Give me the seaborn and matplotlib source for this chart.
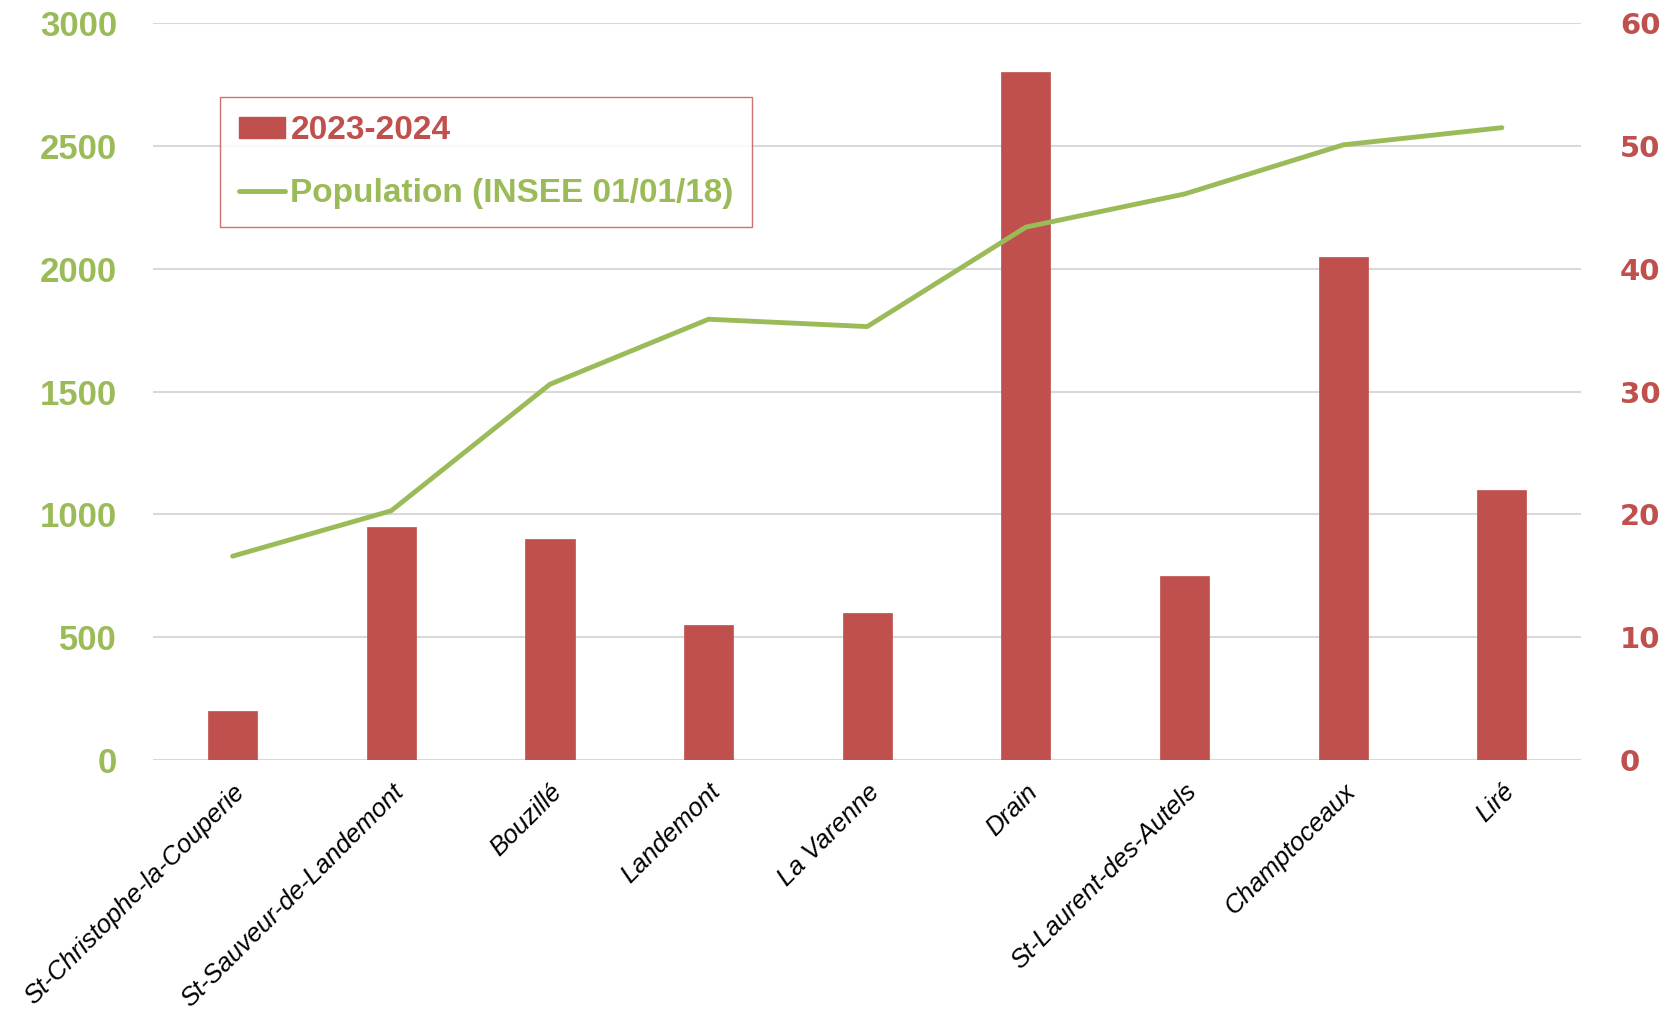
import matplotlib
matplotlib.use('Agg')
import matplotlib.pyplot as plt
from matplotlib.patches import Patch
from matplotlib.lines import Line2D
import seaborn as sns
import pandas as pd

communes = ["St-Christophe-la-Couperie", "St-Sauveur-de-Landemont", "Bouzillé", "Landemont",
            "La Varenne", "Drain", "St-Laurent-des-Autels", "Champtoceaux", "Liré"]
counts_2023 = [4, 19, 18, 11, 12, 56, 15, 41, 22]
population = [830, 1015, 1530, 1795, 1765, 2170, 2305, 2505, 2575]
left_ticks = [0, 500, 1000, 1500, 2000, 2500, 3000]
right_ticks = [0, 10, 20, 30, 40, 50, 60]

RED = "#C0504D"
GREEN = "#9BBB59"
GRID = "#D9D9D9"

sns.set_style("white")
plt.rcParams['font.family'] = ['Liberation Sans', 'DejaVu Sans']

df = pd.DataFrame({"commune": communes, "count": counts_2023, "population": population})

fig = plt.figure(figsize=(16.75, 10.14), dpi=100)
ax = fig.add_axes([0.0915, 0.2505, 0.8525, 0.7265])
ax2 = ax.twinx()

# bars on the right axis
sns.barplot(data=df, x="commune", y="count", ax=ax2, color=RED, width=0.31,
            saturation=1, edgecolor=RED, linewidth=0.5)
ax2.set_ylim(0, 60)
ax2.set_yticks(right_ticks)
ax2.yaxis.grid(True, color=GRID, linewidth=1.5)
ax2.set_axisbelow(True)

# population line on the left axis, drawn above bars
sns.pointplot(data=df, x="commune", y="population", ax=ax, color=GREEN, markers="",
              linewidth=3.5, errorbar=None)
ax.set_ylim(0, 3000)
ax.set_yticks(left_ticks)
ax.set_zorder(ax2.get_zorder() + 1)
ax.patch.set_visible(False)
ax.set_xlim(-0.5, len(communes) - 0.5)

for a in (ax, ax2):
    for s in a.spines.values():
        s.set_visible(False)
    a.set_xlabel("")
    a.set_ylabel("")
    a.tick_params(axis='both', length=0)

ax.set_xticks(range(len(communes)))
ax.set_xticklabels(communes, rotation=45, ha='right', rotation_mode='anchor',
                   fontsize=18.5, style='italic', color='black')
ax.tick_params(axis='x', pad=14)
ax.tick_params(axis='y', pad=26)
for lbl in ax.get_yticklabels():
    lbl.set_fontsize(25)
    lbl.set_fontweight('bold')
    lbl.set_color(GREEN)

ax2.tick_params(axis='y', pad=28)
for lbl in ax2.get_yticklabels():
    lbl.set_fontsize(21)
    lbl.set_fontweight('bold')
    lbl.set_color(RED)
    lbl.set_family(['DejaVu Sans'])

handles = [Patch(facecolor=RED, edgecolor=RED),
           Line2D([0], [0], color=GREEN, linewidth=3.5)]
labels = ["2023-2024", "Population (INSEE 01/01/18)"]
leg = ax.legend(handles, labels, loc='upper left', bbox_to_anchor=(0.047, 0.90),
                borderaxespad=0, frameon=True, fancybox=False, handlelength=1.4,
                handleheight=0.6, handletextpad=0.15, borderpad=0.55, labelspacing=0.95,
                prop={'weight': 'bold', 'size': 24})
leg.get_frame().set_edgecolor(RED)
leg.get_frame().set_linewidth(1)
for t, c in zip(leg.get_texts(), [RED, GREEN]):
    t.set_color(c)

fig.savefig("out.png", dpi=100)
